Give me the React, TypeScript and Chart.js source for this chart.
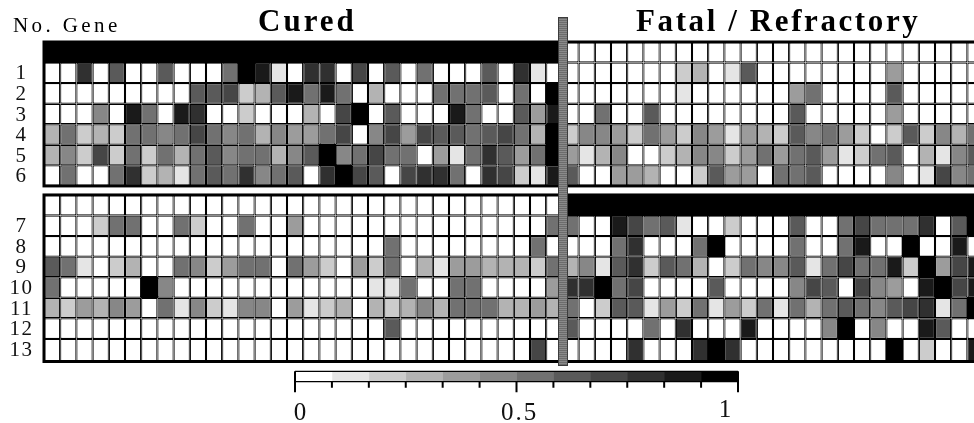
import React, { useEffect, useRef } from "react";
import { Chart, registerables } from "chart.js";

Chart.register(...registerables);

const SERIF = '"Liberation Serif", "Times New Roman", serif';

// shade levels of the 12-step scale (0 = white ... 11 = black)
const shadeLevels = ["#ffffff", "#e5e5e5", "#cccccc", "#b3b3b3", "#9c9c9c", "#878787", "#717171", "#5a5a5a", "#464646", "#303030", "#1a1a1a", "#000000"];
const geneLabels = ["1", "2", "3", "4", "5", "6", "7", "8", "9", "10", "11", "12", "13"];

const curedHeaderTop = Array(32).fill(11);
const curedTop = [
  [0,0,9,0,7,0,0,7,0,0,0,6,11,10,1,0,9,9,0,8,0,7,0,6,0,0,0,7,0,9,1,0],
  [0,0,0,0,0,0,0,0,0,7,7,8,2,3,7,10,6,10,6,0,3,0,0,0,6,6,6,7,0,6,0,11],
  [0,0,0,5,0,10,6,0,10,9,0,0,2,0,0,0,3,0,8,11,0,7,0,0,0,10,6,0,0,7,4,10],
  [3,6,2,3,2,6,6,5,6,8,6,5,6,3,5,4,4,6,8,0,5,8,4,8,7,7,6,7,8,6,3,11],
  [3,5,2,8,2,6,2,6,3,6,7,5,6,6,3,5,7,11,5,6,8,6,6,0,4,1,6,9,7,4,6,11],
  [0,6,0,0,6,9,2,3,1,6,7,6,9,5,6,7,0,9,11,8,7,0,8,9,9,6,0,9,8,2,1,10],
];
const fatalHeaderTop = Array(26).fill(0);
const fatalTop = [
  [0,0,0,0,0,0,0,2,3,0,1,7,0,0,0,0,0,0,0,0,4,0,0,0,0,0],
  [0,0,0,0,0,0,0,1,0,0,0,0,0,0,4,6,0,0,0,0,7,0,0,0,0,0],
  [0,0,6,0,0,7,0,0,0,0,0,0,0,0,7,0,0,0,0,0,4,0,0,0,0,0],
  [2,5,5,4,2,6,4,2,5,4,1,4,3,2,7,5,6,4,2,0,2,7,2,5,3,6],
  [4,1,3,5,0,0,2,3,5,5,2,4,6,4,6,7,4,1,2,6,7,0,3,1,5,7],
  [7,0,0,4,4,3,0,0,2,7,4,4,0,6,6,7,0,0,0,0,5,0,1,8,5,6],
];
const curedHeaderBottom = Array(32).fill(0);
const curedBottom = [
  [0,0,0,2,6,6,0,0,6,2,0,0,6,0,0,4,0,0,0,0,0,0,0,0,0,0,0,0,0,0,0,6],
  [0,0,0,0,0,0,0,0,0,0,0,0,0,0,0,0,0,0,0,0,0,6,0,0,0,0,0,0,0,0,6,0],
  [7,6,1,0,2,3,0,0,6,5,2,4,6,6,0,6,4,2,0,4,2,6,0,3,1,4,4,3,3,3,2,6],
  [6,0,0,0,0,0,11,5,0,0,0,0,0,0,0,0,0,0,0,0,1,1,6,0,0,6,6,0,0,0,0,4],
  [3,2,4,3,5,4,0,6,1,5,2,1,5,5,0,4,1,2,3,0,3,2,3,5,3,6,6,6,3,3,4,3],
  [0,0,0,0,0,0,0,0,0,0,0,0,0,0,0,0,0,0,0,0,0,7,0,0,0,0,0,0,0,0,0,0],
  [0,0,0,0,0,0,0,0,0,0,0,0,0,0,0,0,0,0,0,0,0,0,0,0,0,0,0,0,0,0,8,0],
];
const fatalHeaderBottom = Array(26).fill(11);
const fatalBottom = [
  [6,0,0,10,8,6,7,1,0,0,2,0,0,0,7,0,0,6,8,6,6,6,9,0,7,11],
  [0,0,0,6,9,0,0,0,6,11,0,0,0,0,6,0,0,6,10,0,0,11,0,0,10,0],
  [3,5,1,7,9,2,7,6,3,0,2,6,5,5,7,1,6,8,6,6,10,2,11,4,8,10],
  [9,9,11,6,8,0,0,0,0,7,0,0,0,0,5,8,7,0,8,5,4,0,10,11,8,10],
  [6,0,2,7,7,1,4,2,6,1,4,2,6,1,6,3,6,7,6,5,7,8,9,1,6,11],
  [7,0,0,0,0,6,0,9,0,0,0,10,0,0,0,0,5,11,0,5,0,0,10,7,0,0],
  [0,0,0,0,9,0,0,0,9,11,9,0,0,0,0,0,0,0,0,0,11,0,2,0,0,10],
];
const scaleTickLabels = ["0", "0.5", "1"];

const rows = [
  [...curedHeaderTop, ...fatalHeaderTop],
  ...curedTop.map((r, i) => [...r, ...fatalTop[i]]),
  [...curedHeaderBottom, ...fatalHeaderBottom],
  ...curedBottom.map((r, i) => [...r, ...fatalBottom[i]]),
];
const TOP_ROWS = 7;
const PANEL_GAP = 0.44;
const rowStart = (i: number) => (i < TOP_ROWS ? i : i + PANEL_GAP);
const LAST_EXTRA = 0.1;
const yMax = rowStart(rows.length - 1) + 1 + LAST_EXTRA;

export default function App() {
  const mainRef = useRef<HTMLCanvasElement>(null);
  const barRef = useRef<HTMLCanvasElement>(null);

  useEffect(() => {
    const columns = rows[0].map((_, i) => String(i));
    const geneRowIndex = (g: number) => (g < 6 ? g + 1 : g + 2);
    const main = new Chart(mainRef.current!, {
      type: "bar",
      data: {
        labels: columns,
        datasets: rows.map((r, i) => ({
          label: "row" + i,
          data: r.map(() => [rowStart(i), rowStart(i) + 1 + (i === rows.length - 1 ? LAST_EXTRA : 0)]),
          backgroundColor: r.map((l) => shadeLevels[l]),
          inflateAmount: r.map((l) => (l === shadeLevels.length - 1 ? 0.7 : 0)),
          borderColor: "#000000",
          borderWidth: { left: 1.15, right: 1.15, top: 1.2, bottom: 1.2 },
          borderSkipped: false,
          grouped: false,
          barPercentage: 1,
          categoryPercentage: 1,
        })),
      },
      options: {
        responsive: false,
        animation: false,
        events: [],
        layout: { padding: { top: 42, bottom: 423 - 361.5, left: 0, right: 0.4 } },
        plugins: { legend: { display: false }, tooltip: { enabled: false }, title: { display: false } },
        scales: {
          x: { display: false, grid: { display: false } },
          y: {
            type: "linear",
            reverse: true,
            min: 0,
            max: yMax,
            grid: { display: false, drawTicks: false },
            border: { display: false },
            afterFit: (s: any) => { s.width = 44; },
            afterBuildTicks: (s: any) => {
              s.ticks = geneLabels.map((_, g) => ({ value: rowStart(geneRowIndex(g)) + 0.55 }));
            },
            afterTickToLabelConversion: (s: any) => {
              s.ticks.forEach((t: any, g: number) => { t.label = geneLabels[g]; });
            },
            ticks: {
              autoSkip: false,
              crossAlign: "center",
              padding: 12,
              color: "#111111",
              font: { family: SERIF, size: 21 },
            },
          },
        },
      },
      plugins: [
        {
          id: "panelFrames",
          beforeDraw(c: any) { c.ctx.letterSpacing = "1.5px"; },
          afterDatasetsDraw(c: any) {
            const { ctx, chartArea, scales } = c;
            ctx.save();
            ctx.strokeStyle = "#000";
            ctx.lineWidth = 3;
            const y = scales.y;
            ctx.strokeRect(chartArea.left, y.getPixelForValue(0), chartArea.width, y.getPixelForValue(TOP_ROWS) - y.getPixelForValue(0));
            ctx.strokeRect(chartArea.left, y.getPixelForValue(rowStart(TOP_ROWS)), chartArea.width, y.getPixelForValue(yMax) - y.getPixelForValue(rowStart(TOP_ROWS)));
            ctx.restore();
          },
        },
      ],
    } as any);

    const barChart = new Chart(barRef.current!, {
      type: "bar",
      data: {
        labels: ["scale"],
        datasets: shadeLevels.map((color, i) => ({
          label: "s" + i,
          data: [1 / shadeLevels.length],
          backgroundColor: color,
          borderWidth: 0,
          stack: "s",
          barPercentage: 1,
          categoryPercentage: 1,
        })),
      },
      options: {
        indexAxis: "y",
        responsive: false,
        animation: false,
        events: [],
        layout: { padding: { left: 295, right: 974 - 738, top: 6.3, bottom: 58 - 16.7 } },
        plugins: { legend: { display: false }, tooltip: { enabled: false } },
        scales: {
          y: { display: false, stacked: true },
          x: {
            display: false,
            stacked: true,
            min: 0,
            max: 1,
            afterBuildTicks: (s: any) => {
              s.ticks = shadeLevels.map((_, i) => ({ value: i / shadeLevels.length })).concat([{ value: 1 }]);
            },
          },
        },
      },
      plugins: [
        {
          id: "scaleAxis",
          afterDraw(c: any) {
            const { ctx, chartArea, scales } = c;
            const n = shadeLevels.length;
            ctx.save();
            ctx.strokeStyle = "#000";
            ctx.lineWidth = 1.3;
            ctx.beginPath();
            ctx.moveTo(chartArea.left, chartArea.top);
            ctx.lineTo(chartArea.right, chartArea.top);
            ctx.moveTo(chartArea.left, chartArea.bottom);
            ctx.lineTo(chartArea.right, chartArea.bottom);
            ctx.stroke();
            ctx.lineWidth = 2;
            ctx.beginPath();
            scales.x.ticks.forEach((t: any, i: number) => {
              const major = i === 0 || i === n / 2 || i === n;
              const px = scales.x.getPixelForValue(t.value);
              ctx.moveTo(px, major && i !== n / 2 ? chartArea.top : chartArea.bottom);
              ctx.lineTo(px, chartArea.bottom + (major ? 10.5 : 6));
            });
            ctx.stroke();
            ctx.fillStyle = "#111";
            ctx.font = `25px ${SERIF}`;
            ctx.textAlign = "center";
            ctx.textBaseline = "alphabetic";
            ctx.letterSpacing = "2px";
            const shift = [6, 3, -12];
            const lift = [38.3, 38.3, 35];
            scaleTickLabels.forEach((label, i) => {
              const px = scales.x.getPixelForValue(i / 2);
              ctx.fillText(label, px + shift[i], chartArea.bottom + lift[i]);
            });
            ctx.restore();
          },
        },
      ],
    } as any);

    return () => {
      main.destroy();
      barChart.destroy();
    };
  }, []);

  const text = (s: string, left: number, top: number, size: number, bold: boolean, spacing: number) => (
    <div
      style={{
        position: "absolute",
        left,
        top,
        fontFamily: SERIF,
        fontSize: size,
        fontWeight: bold ? 700 : 400,
        letterSpacing: spacing,
        lineHeight: 1,
        whiteSpace: "nowrap",
        color: "#000",
      }}
    >
      {s}
    </div>
  );

  return (
    <div style={{ position: "fixed", left: 0, top: 0, width: 974, height: 423, overflow: "hidden", background: "#fff" }}>
      <canvas ref={mainRef} width={984} height={423} style={{ position: "absolute", left: 0, top: 0 }} />
      <canvas ref={barRef} width={974} height={58} style={{ position: "absolute", left: 0, top: 365 }} />
      <div
        style={{
          position: "absolute",
          left: 557.5,
          top: 17,
          width: 8,
          height: 347,
          border: "1px solid #3c3c3c",
          background: "repeating-linear-gradient(#6c6c6c 0 1px, #8a8a8a 1px 2px)",
        }}
      />
      {text("No. Gene", 13, 15, 21, false, 3.4)}
      {text("Cured", 258, 5, 31, true, 3)}
      {text("Fatal / Refractory", 636, 5, 31, true, 2.6)}
    </div>
  );
}
